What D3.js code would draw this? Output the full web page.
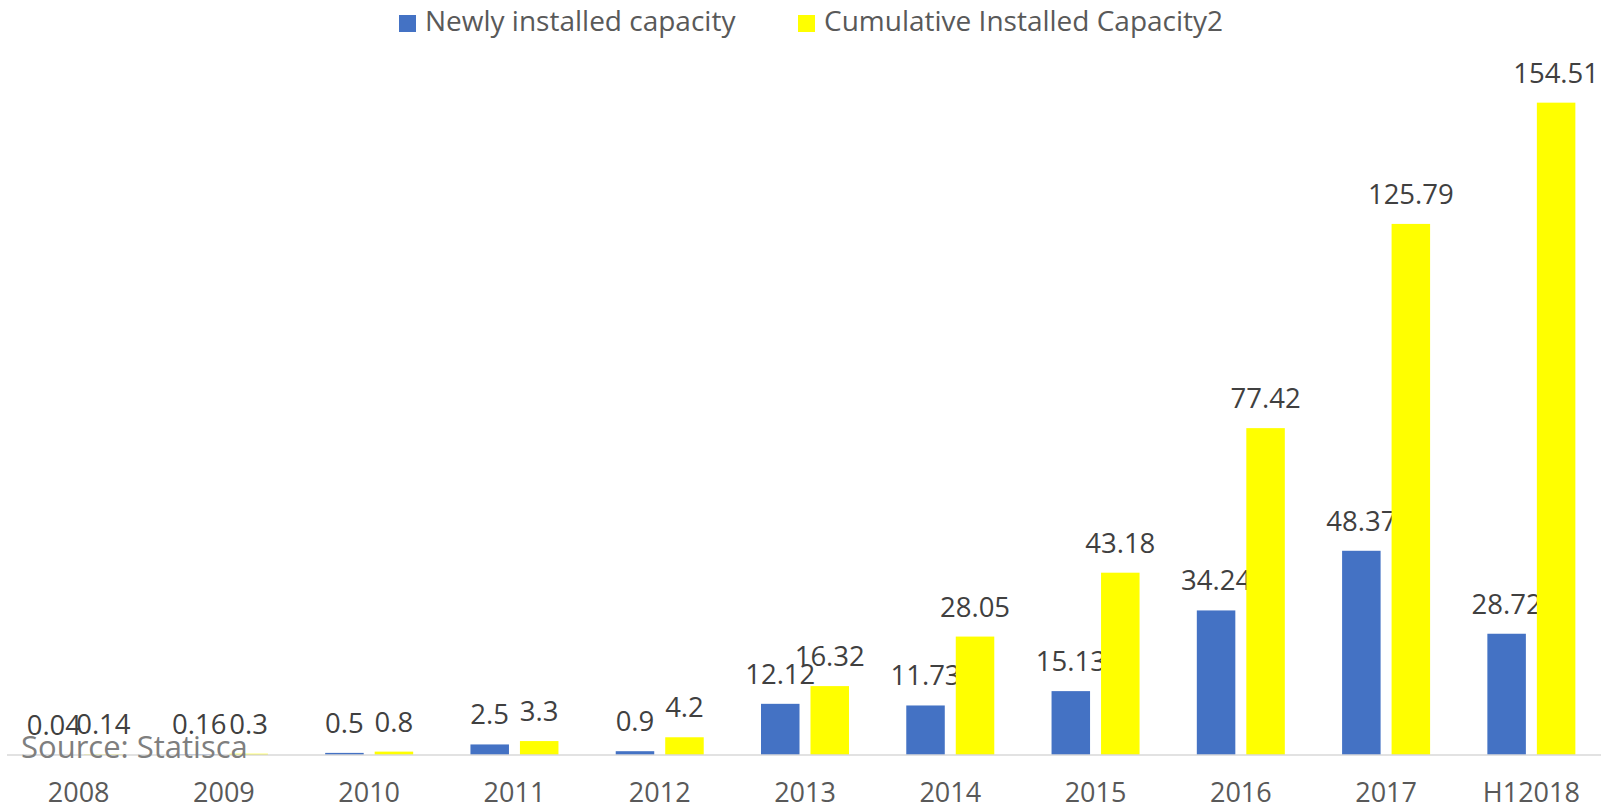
<!DOCTYPE html>
<html>
<head>
<meta charset="utf-8">
<script src="https://cdn.jsdelivr.net/npm/d3@7"></script>
<style>
  body { margin: 0; background: #fff; }
  text { font-family: "Open Sans", sans-serif; }
</style>
</head>
<body>
<script>
// chart values
let categories = ["2008", "2009", "2010", "2011", "2012", "2013", "2014", "2015", "2016", "2017", "H12018"];
let series_names = ["Newly installed capacity", "Cumulative Installed Capacity2"];
let newly_installed = [0.04, 0.16, 0.5, 2.5, 0.9, 12.12, 11.73, 15.13, 34.24, 48.37, 28.72];
let cumulative = [0.14, 0.3, 0.8, 3.3, 4.2, 16.32, 28.05, 43.18, 77.42, 125.79, 154.51];
let series_colors = ["#4472C4", "#FFFF00"];

let width = 1601;
let height = 811;
let baseline = 755;

let svg = d3.select("body").append("svg")
    .attr("width", width)
    .attr("height", height);

let x = d3.scaleBand()
    .domain(categories)
    .range([6, 1604])
    .padding(0);

// position of the two bars inside a category
let x1 = d3.scaleBand()
    .domain(series_names)
    .range([-44, 44])
    .paddingInner(0.222)
    .paddingOuter(0);

let y = d3.scaleLinear()
    .domain([0, 160])
    .range([baseline, baseline - 160 * 4.222]);

let values = [newly_installed, cumulative];

series_names.forEach((name, s) => {
    let rows = categories.map((c, i) => ({cat: c, v: values[s][i]}));
    let g = svg.append("g");
    g.selectAll("rect")
        .data(rows)
        .join("rect")
        .attr("x", d => x(d.cat) + x.bandwidth() / 2 + x1(name))
        .attr("y", d => y(d.v))
        .attr("width", x1.bandwidth())
        .attr("height", d => baseline - y(d.v))
        .attr("fill", series_colors[s]);

    g.selectAll("text")
        .data(rows)
        .join("text")
        .attr("x", d => x(d.cat) + x.bandwidth() / 2 + x1(name) + x1.bandwidth() / 2)
        .attr("y", d => y(d.v) - 20)
        .attr("text-anchor", "middle")
        .style("font-size", "27.5px")
        .style("fill", "#404040")
        .text(d => d.v);
});

// x axis
let xAxis = svg.append("g")
    .attr("transform", "translate(0," + baseline + ")")
    .call(d3.axisBottom(x).tickSize(0).tickPadding(28));
xAxis.select(".domain")
    .attr("d", "M7,0H1601")
    .attr("stroke", "#D9D9D9")
    .attr("stroke-width", 1.5);
xAxis.selectAll(".tick text")
    .style("font-family", "'Open Sans', sans-serif")
    .style("font-size", "27px")
    .style("fill", "#595959");

// legend
let legend_x = [399, 798];
series_names.forEach((name, s) => {
    svg.append("rect")
        .attr("x", legend_x[s])
        .attr("y", 15)
        .attr("width", 17)
        .attr("height", 17)
        .attr("fill", series_colors[s]);
    svg.append("text")
        .attr("x", legend_x[s] + 26)
        .attr("y", 31)
        .style("font-size", "28px")
        .style("fill", "#595959")
        .text(name);
});

// source note sits over the first bars
svg.append("text")
    .attr("x", 21)
    .attr("y", 758)
    .style("font-size", "31px")
    .style("fill", "#7F7F7F")
    .text("Source: Statisca");
</script>
</body>
</html>
